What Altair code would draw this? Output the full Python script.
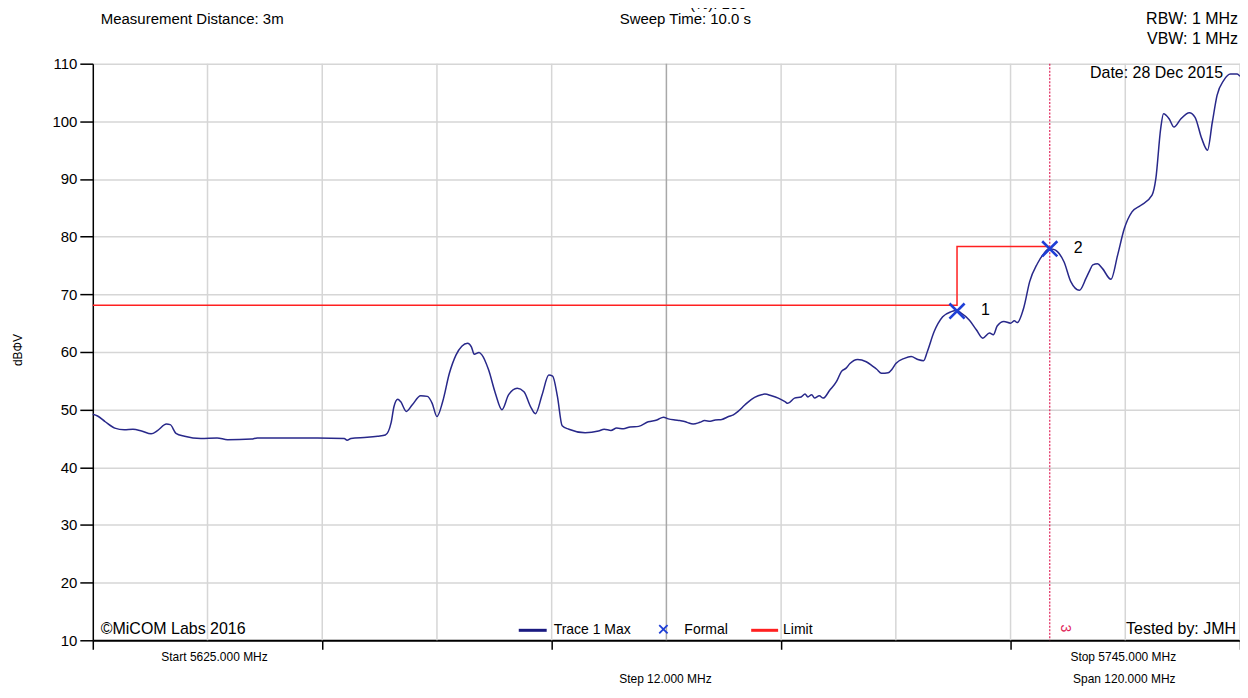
import altair as alt
import pandas as pd

FONT = "Liberation Sans"

# ---- trace data (MHz, dBuV) ----
freq = [5625.0, 5625.5, 5626.3, 5627.3, 5628.3, 5629.2, 5630.1, 5631.1, 5631.8, 5632.7,
        5633.1, 5633.7, 5634.6, 5636.3, 5638.0, 5639.1, 5641.6, 5642.2, 5645.0, 5648.5,
        5651.3, 5651.6, 5652.0, 5653.7, 5654.8, 5655.6, 5656.2, 5656.5, 5656.9, 5657.2,
        5657.8, 5658.4, 5659.3, 5660.0, 5660.5, 5661.0, 5661.6, 5662.3, 5663.0, 5663.6,
        5664.2, 5664.6, 5664.9, 5665.4, 5665.7, 5666.4, 5667.1, 5667.8, 5668.5, 5669.4,
        5670.1, 5670.8, 5671.3, 5672.0, 5672.7, 5673.1, 5673.6, 5674.1, 5674.8, 5676.5,
        5677.9, 5678.5, 5679.2, 5679.8, 5680.5, 5681.2, 5682.1, 5683.1, 5684.0, 5684.7,
        5685.2, 5685.9, 5686.4, 5687.0, 5687.3, 5687.8, 5688.5, 5689.0, 5689.6, 5690.1,
        5690.8, 5691.5, 5692.0, 5692.5, 5693.2, 5693.9, 5694.6, 5695.3, 5696.0, 5696.7,
        5697.4, 5697.7, 5698.4, 5699.1, 5699.5, 5699.8, 5700.2, 5700.5, 5701.0, 5701.4,
        5702.1, 5702.8, 5703.3, 5703.8, 5704.2, 5705.0, 5705.9, 5706.6, 5707.0, 5707.5,
        5708.2, 5708.6, 5709.0, 5709.9, 5710.6, 5711.3, 5711.9, 5712.3, 5713.0, 5713.9,
        5714.8, 5715.3, 5715.8, 5716.7, 5717.4, 5718.1, 5718.8, 5719.2, 5719.6, 5720.3,
        5721.0, 5721.4, 5721.7, 5722.4, 5723.0, 5723.8, 5724.5, 5725.0, 5725.5, 5725.9,
        5726.6, 5727.3, 5728.2, 5728.9, 5729.3, 5729.6, 5730.1, 5730.6, 5731.5, 5732.2,
        5732.9, 5733.7, 5734.6, 5735.8, 5736.2, 5736.7, 5737.0, 5737.6, 5738.1, 5738.8,
        5739.7, 5740.3, 5741.0, 5741.6, 5742.1, 5742.6, 5743.3, 5744.0, 5744.7, 5745.0]
level = [49.2, 48.9, 47.9, 46.8, 46.5, 46.6, 46.3, 45.8, 46.4, 47.5,
         47.4, 45.9, 45.4, 45.0, 45.1, 44.8, 44.9, 45.1, 45.1, 45.1,
         45.0, 44.7, 45.0, 45.2, 45.4, 45.6, 47.7, 50.5, 51.8, 51.4,
         49.7, 50.8, 52.4, 52.3, 51.1, 48.8, 51.4, 56.3, 59.5, 61.0,
         61.5, 60.9, 59.6, 59.9, 59.5, 56.9, 52.9, 50.0, 52.6, 53.7,
         53.1, 50.5, 49.3, 52.6, 56.0, 55.8, 52.3, 47.2, 46.6, 46.0,
         46.3, 46.6, 46.4, 46.8, 46.7, 47.0, 47.1, 47.9, 48.2, 48.7,
         48.4, 48.2, 48.1, 47.9, 47.7, 47.5, 47.8, 48.1, 48.0, 48.2,
         48.3, 48.8, 49.1, 49.7, 50.8, 51.8, 52.4, 52.7, 52.4, 52.0,
         51.4, 51.1, 52.0, 52.2, 52.7, 52.2, 52.6, 52.0, 52.4, 52.0,
         53.4, 54.9, 56.6, 57.2, 58.0, 58.7, 58.3, 57.5, 57.0, 56.3,
         56.4, 57.0, 58.0, 58.9, 59.2, 58.7, 58.5, 60.1, 63.5, 66.1,
         67.0, 67.2, 66.8, 65.5, 63.9, 62.4, 63.3, 63.0, 64.5, 65.3,
         65.0, 65.4, 65.1, 67.8, 72.2, 75.3, 77.1, 77.9, 77.8, 77.4,
         75.6, 72.2, 70.7, 72.8, 74.2, 75.1, 75.3, 74.5, 72.6, 76.8,
         81.4, 84.3, 85.4, 87.2, 90.1, 98.7, 101.3, 100.4, 99.0, 100.4,
         101.5, 100.7, 97.0, 95.0, 99.8, 104.5, 107.1, 108.2, 108.2, 107.8]

# ---- limit line ----
limit_freq = [5625.0, 5715.4, 5715.4, 5725.1]
limit_level = [68.1, 68.1, 78.3, 78.3]

# ---- markers ----
marker_freq = [5715.4, 5725.1]
marker_level = [67.1, 77.9]
marker_label = ["1", "2"]
marker3_freq = [5725.1]

# ---- axes ----
x_domain = [5625, 5745]
y_domain = [10, 110]
x_major = [5625, 5649, 5673, 5697, 5721, 5745]
x_grid = [5637, 5649, 5661, 5673, 5697, 5709, 5721, 5733, 5745]
x_center = [5685]
y_ticks = [10, 20, 30, 40, 50, 60, 70, 80, 90, 100, 110]

# ---- texts ----
t_distance = "Measurement Distance: 3m"
t_sweep = "Sweep Time: 10.0 s"
t_cut = "(%): 100"
t_rbw = "RBW: 1 MHz"
t_vbw = "VBW: 1 MHz"
t_date = "Date: 28 Dec 2015"
t_copy = "\u00a9MiCOM Labs 2016"
t_tested = "Tested by: JMH"
t_leg = ["Trace 1 Max", "Formal", "Limit"]
t_start = "Start 5625.000 MHz"
t_stop = "Stop 5745.000 MHz"
t_step = "Step 12.000 MHz"
t_span = "Span 120.000 MHz"
t_ylab = "dB\u03a6V"
t_m3 = "3"

xs = alt.Scale(domain=x_domain, nice=False, zero=False)
ys = alt.Scale(domain=y_domain, nice=False, zero=False)

trace_df = pd.DataFrame({"freq": freq, "level": level})
limit_df = pd.DataFrame({"freq": limit_freq, "level": limit_level, "i": list(range(len(limit_freq)))})
marker_df = pd.DataFrame({"freq": marker_freq, "level": marker_level, "lab": marker_label})
one = pd.DataFrame({"a": [0]})

X_PATH = "M-1,-1L1,1M-1,1L1,-1"

base_axes = alt.Chart(trace_df).mark_line(
    color="#28288a", strokeWidth=1.5, interpolate="monotone"
).encode(
    x=alt.X("freq:Q", scale=xs, axis=alt.Axis(
        values=x_major, labels=False, title=None, grid=False, tickSize=9,
        domainColor="black", domainWidth=2, tickColor="black", tickWidth=1.5)),
    y=alt.Y("level:Q", scale=ys, axis=alt.Axis(
        values=y_ticks, title=None, tickSize=13, labelPadding=3,
        labelFontSize=15, labelFont=FONT, labelColor="black",
        domainColor="black", domainWidth=1.5, tickColor="black", tickWidth=1.5,
        grid=True, gridColor="#d6d6d6", gridWidth=1.5)),
)

vgrid = alt.Chart(pd.DataFrame({"g": x_grid})).mark_rule(
    color="#d6d6d6", strokeWidth=1.5).encode(x=alt.X("g:Q", scale=xs))
vcenter = alt.Chart(pd.DataFrame({"g": x_center})).mark_rule(
    color="#a8a8a8", strokeWidth=1.5).encode(x=alt.X("g:Q", scale=xs))

limit = alt.Chart(limit_df).mark_line(color="#ff2020", strokeWidth=1.5).encode(
    x=alt.X("freq:Q", scale=xs), y=alt.Y("level:Q", scale=ys), order="i:Q")

vdash = alt.Chart(pd.DataFrame({"f": marker3_freq})).mark_rule(
    color="#e0245a", strokeWidth=1.2, strokeDash=[2, 1.5]).encode(
    x=alt.X("f:Q", scale=xs))

markers = alt.Chart(marker_df).mark_point(
    shape=X_PATH, size=230, filled=False, color="#1f3fd6", strokeWidth=2.6, opacity=1
).encode(x=alt.X("freq:Q", scale=xs), y=alt.Y("level:Q", scale=ys))

marker_text = alt.Chart(marker_df).mark_text(
    align="left", baseline="middle", dx=24, dy=-1, fontSize=16, font=FONT, color="black"
).encode(x=alt.X("freq:Q", scale=xs), y=alt.Y("level:Q", scale=ys), text="lab:N")


def label(text, x, y, size=15, align="left", color="black", angle=0, baseline="middle"):
    kw = dict(align=align, baseline=baseline, fontSize=size, font=FONT, color=color)
    if angle:
        kw["angle"] = angle
    return alt.Chart(pd.DataFrame({"t": [text]})).mark_text(**kw).encode(
        x=alt.value(x), y=alt.value(y), text="t:N")


texts = [
    label(t_distance, 8, -45, 15),
    label(t_sweep, 594, -45, 15, "center"),
    label(t_cut, 627, -52, 15, "center", baseline="bottom"),
    label(t_rbw, 1148, -45, 16, "right"),
    label(t_vbw, 1148, -25, 16, "right"),
    label(t_date, 1133, 9, 16, "right"),
    label(t_copy, 8, 567, 16),
    label(t_tested, 1146, 567, 16, "right"),
    label(t_leg[0], 462, 568, 14),
    label(t_leg[1], 593, 568, 14),
    label(t_leg[2], 692, 568, 14),
    label(t_start, 122, 595, 12, "center"),
    label(t_stop, 1033, 595, 12, "center"),
    label(t_step, 574, 617, 12, "center"),
    label(t_span, 1034, 617, 12, "center"),
    label(t_ylab, -75, 287, 12, "center", angle=270),
    label(t_m3, 975, 566, 14, "center", color="#e0245a", angle=90),
]

leg_trace = alt.Chart(one).mark_rule(color="#1a1a80", strokeWidth=3).encode(
    x=alt.value(427), x2=alt.value(455), y=alt.value(568))
leg_limit = alt.Chart(one).mark_rule(color="#ff2020", strokeWidth=3).encode(
    x=alt.value(660), x2=alt.value(687), y=alt.value(568))
leg_x = alt.Chart(one).mark_point(
    shape=X_PATH, size=70, filled=False, color="#1f3fd6", strokeWidth=1.8, opacity=1
).encode(x=alt.value(572), y=alt.value(567))

chart = alt.layer(
    vgrid, vcenter, base_axes, limit, vdash, markers, marker_text,
    leg_trace, leg_limit, leg_x, *texts
).properties(
    width=1150, height=578,
    padding={"left": 85, "top": 55, "right": 0, "bottom": 45},
    autosize=alt.AutoSizeParams(type="none"),
    background="white",
).configure_view(stroke=None)

chart.save("out.html", embed_options={"renderer": "svg", "actions": False})
